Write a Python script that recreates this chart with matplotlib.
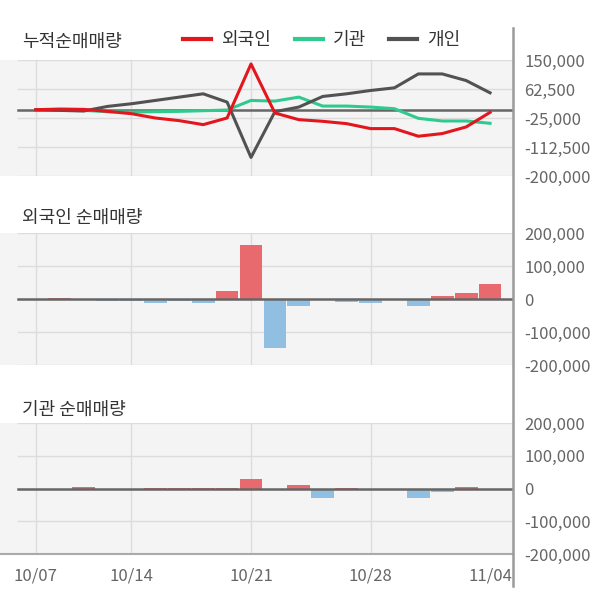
import matplotlib
matplotlib.use("Agg")
import matplotlib.pyplot as plt
from matplotlib.lines import Line2D
from matplotlib.ticker import FuncFormatter
import numpy as np

plt.rcParams["font.family"] = ["Noto Sans CJK KR", "DejaVu Sans"]

dates = ["10/07", "10/08", "10/10", "10/11", "10/14", "10/15", "10/16", "10/17", "10/18", "10/21",
         "10/22", "10/23", "10/24", "10/25", "10/28", "10/29", "10/30", "10/31", "11/01", "11/04"]
tick_idx = [0, 4, 9, 14, 19]

# cumulative net buying
cum_foreign = [0, 2000, 1000, -5000, -12000, -25000, -33000, -45000, -25000, 138000,
               -10000, -30000, -35000, -42000, -57000, -57000, -80000, -72000, -52000, -8000]
cum_inst = [0, 0, -2000, -6000, -7000, -6000, -5000, -3000, -1000, 28000,
            26000, 38000, 11000, 11000, 8000, 3000, -26000, -34000, -34000, -41000]
cum_indiv = [0, -2000, -4000, 10000, 18000, 28000, 38000, 48000, 23000, -144000,
             -6000, 8000, 40000, 48000, 58000, 66000, 108000, 108000, 88000, 51000]

# daily net buying
foreign = [0, 4000, 0, -5000, -5000, -13000, -6000, -13000, 23000, 165000,
           -147000, -22000, 0, -8000, -12000, 0, -21000, 8000, 19000, 44000]
inst = [0, 0, 4000, -4000, 0, 3000, 3000, 3000, 3000, 28000,
        0, 10000, -28000, 3000, 0, -3000, -28000, -10000, 4000, -5000]

W, H = 600, 604
fig = plt.figure(figsize=(W / 100, H / 100), dpi=100)

RED, GREEN, DARK = "#e3161d", "#2fcb8e", "#525252"
BAR_UP, BAR_DN = "#e96a6e", "#90bfe1"
BG, GRID, TXT = "#f4f4f4", "#dcdcdc", "#666666"


def make_ax(top, bottom):
    ax = fig.add_axes([0, 1 - bottom / H, 513 / W, (bottom - top) / H])
    ax.set_facecolor(BG)
    for s in ax.spines.values():
        s.set_visible(False)
    ax.set_xlim(-1.5, 19.96)
    ax.yaxis.tick_right()
    ax.tick_params(axis="y", length=0, pad=8, labelsize=12, labelcolor=TXT)
    ax.tick_params(axis="x", length=0)
    ax.set_xticks([])
    for i in tick_idx[:-1]:
        ax.axvline(i, color=GRID, lw=1, zorder=0)
    ax.yaxis.set_major_formatter(FuncFormatter(lambda v, p: f"{int(v):,}"))
    return ax


def hgrid(ax, ticks):
    for t in ticks:
        ax.axhline(t, xmin=18 / 513, color=GRID, lw=1, zorder=0)
    ax.axhline(0, xmin=18 / 513, color="#666666", lw=1.8, zorder=3)


x = np.arange(len(dates))

# panel 1: cumulative
ax1 = make_ax(60, 176)
ticks1 = [150000, 62500, -25000, -112500, -200000]
ax1.set_ylim(-200000, 150000)
ax1.set_yticks(ticks1)
hgrid(ax1, ticks1)
ax1.plot(x, cum_inst, color=GREEN, lw=2.2, zorder=4)
ax1.plot(x, cum_indiv, color=DARK, lw=2.2, zorder=4)
ax1.plot(x, cum_foreign, color=RED, lw=2.2, zorder=5)


def bar_panel(top, bottom, vals):
    ax = make_ax(top, bottom)
    ticks = [200000, 100000, 0, -100000, -200000]
    ax.set_ylim(-200000, 200000)
    ax.set_yticks(ticks)
    hgrid(ax, ticks)
    colors = [BAR_UP if v >= 0 else BAR_DN for v in vals]
    ax.bar(x, vals, width=0.95, color=colors, zorder=2)
    return ax


ax2 = bar_panel(233, 365, foreign)
ax3 = bar_panel(423, 554, inst)
ax3.spines["bottom"].set_visible(True)
ax3.spines["bottom"].set_color("#aaaaaa")
ax3.spines["bottom"].set_linewidth(1.5)
ax3.set_xticks(tick_idx)
ax3.set_xticklabels([dates[i] for i in tick_idx], fontsize=12, color=TXT)
ax3.tick_params(axis="x", pad=10)

# right axis line
fig.add_artist(Line2D([513 / W, 513 / W], [1 - 28 / H, 1 - 586 / H], color="#9a9a9a", lw=1.8))

# titles
fig.text(22 / W, 1 - 42 / H, "누적순매매량", fontsize=13, color="#333333", va="center")
fig.text(22 / W, 1 - 218 / H, "외국인 순매매량", fontsize=13, color="#333333", va="center")
fig.text(22 / W, 1 - 410 / H, "기관 순매매량", fontsize=13, color="#333333", va="center")

handles = [Line2D([], [], color=c, lw=3) for c in (RED, GREEN, DARK)]
fig.legend(handles, ["외국인", "기관", "개인"], loc="center", bbox_to_anchor=(322 / W, 1 - 40 / H),
           ncol=3, frameon=False, fontsize=13, handlelength=1.55, handletextpad=0.55,
           columnspacing=1.3, labelcolor="#333333")

fig.savefig("out.png", dpi=100, facecolor="white")
